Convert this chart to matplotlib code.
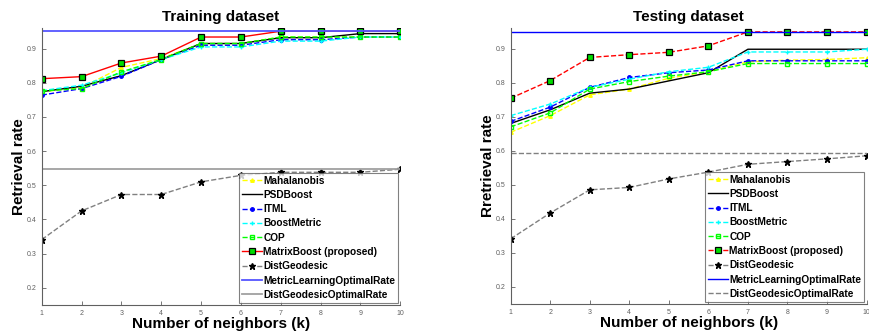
import numpy as np
import matplotlib
matplotlib.use("Agg")
import matplotlib.pyplot as plt

plt.rcParams.update({
    "font.family": ["Liberation Sans", "DejaVu Sans"],
    "font.size": 8,
})

k = list(range(1, 11))

# Training dataset
train_maha = [0.774, 0.786, 0.845, 0.871, 0.915, 0.915, 0.934, 0.934, 0.934, 0.934]
train_psd = [0.774, 0.790, 0.821, 0.868, 0.915, 0.915, 0.932, 0.932, 0.944, 0.944]
train_itml = [0.764, 0.783, 0.819, 0.868, 0.910, 0.910, 0.926, 0.926, 0.934, 0.934]
train_boost = [0.777, 0.793, 0.829, 0.868, 0.905, 0.905, 0.922, 0.922, 0.934, 0.934]
train_cop = [0.776, 0.783, 0.832, 0.868, 0.915, 0.915, 0.934, 0.934, 0.934, 0.934]
train_matrix = [0.812, 0.818, 0.858, 0.878, 0.934, 0.934, 0.951, 0.951, 0.951, 0.951]
train_geo = [0.341, 0.425, 0.473, 0.473, 0.510, 0.529, 0.538, 0.538, 0.538, 0.547]
train_ml_opt = 0.951
train_geo_opt = 0.547

# Testing dataset
test_maha = [0.654, 0.703, 0.764, 0.781, 0.813, 0.832, 0.861, 0.866, 0.868, 0.873]
test_psd = [0.680, 0.720, 0.769, 0.781, 0.805, 0.829, 0.898, 0.898, 0.898, 0.898]
test_itml = [0.686, 0.728, 0.786, 0.815, 0.829, 0.837, 0.864, 0.864, 0.864, 0.864]
test_boost = [0.703, 0.737, 0.786, 0.810, 0.832, 0.845, 0.890, 0.890, 0.890, 0.898]
test_cop = [0.670, 0.711, 0.781, 0.803, 0.819, 0.832, 0.856, 0.856, 0.856, 0.856]
test_matrix = [0.754, 0.806, 0.874, 0.882, 0.889, 0.908, 0.949, 0.949, 0.949, 0.949]
test_geo = [0.341, 0.417, 0.485, 0.492, 0.517, 0.537, 0.560, 0.568, 0.576, 0.585]
test_ml_opt = 0.949
test_geo_opt = 0.592


def draw(ax, maha, psd, itml, boost, cop, matrix, geo, ml_opt, geo_opt,
         matrix_ls, ml_kw, geo_opt_kw, title, ylabel):
    ax.plot(k, maha, "--^", color="#ffff00", lw=1, ms=2.5, label="Mahalanobis")
    ax.plot(k, psd, "-", color="black", lw=1, label="PSDBoost")
    ax.plot(k, itml, "--o", color="#0000ff", lw=1, ms=2.5, label="ITML")
    ax.plot(k, boost, "--+", color="#00ffff", lw=1, ms=3.5, label="BoostMetric")
    ax.plot(k, cop, "--s", color="#00ff00", lw=1, ms=3, mfc="none", label="COP")
    ax.plot(k, matrix, matrix_ls, color="#ff0000", lw=1, marker="s", ms=4.5,
            mfc="#00dd00", mec="black", mew=0.9, label="MatrixBoost (proposed)")
    ax.plot(k, geo, "--*", color="#808080", lw=1, ms=4.5, mfc="black", mec="black",
            label="DistGeodesic")
    ax.axhline(ml_opt, label="MetricLearningOptimalRate", **ml_kw)
    ax.axhline(geo_opt, label="DistGeodesicOptimalRate", **geo_opt_kw)

    ax.set_xlim(1, 10)
    ax.set_ylim(0.15, 0.96)
    ax.set_xticks(k)
    ax.set_yticks([0.2, 0.3, 0.4, 0.5, 0.6, 0.7, 0.8, 0.9])
    ax.set_yticklabels(["0.2", "0.3", "0.4", "0.5", "0.6", "0.7", "0.8", "0.9"])
    ax.tick_params(direction="in", length=3, labelsize=5, colors="#606060",
                   width=0.6)
    for s in ["top", "right"]:
        ax.spines[s].set_visible(False)
    for s in ["left", "bottom"]:
        ax.spines[s].set_color("#606060")
        ax.spines[s].set_linewidth(0.8)
    ax.set_title(title, fontsize=11, fontweight="bold", pad=5)
    ax.set_xlabel("Number of neighbors (k)", fontsize=11, fontweight="bold", labelpad=0)
    ax.set_ylabel(ylabel, fontsize=11, fontweight="bold", labelpad=1)
    leg = ax.legend(loc="lower right", prop={"weight": "bold", "size": 7.3},
                    frameon=True, fancybox=False, edgecolor="#606060",
                    borderpad=0.3, labelspacing=0.42, handlelength=2.0,
                    handletextpad=0.1, borderaxespad=0.2)
    leg.get_frame().set_linewidth(0.8)


fig = plt.figure(figsize=(8.7, 3.31), dpi=100)
ax1 = fig.add_axes([0.048, 0.079, 0.412, 0.836])
ax2 = fig.add_axes([0.587, 0.082, 0.409, 0.833])

draw(ax1, train_maha, train_psd, train_itml, train_boost, train_cop, train_matrix,
     train_geo, train_ml_opt, train_geo_opt, "-",
     dict(color="#5555ff", lw=1.3), dict(color="#a0a0a0", lw=1.3),
     "Training dataset", "Retrieval rate")
draw(ax2, test_maha, test_psd, test_itml, test_boost, test_cop, test_matrix,
     test_geo, test_ml_opt, test_geo_opt, "--",
     dict(color="#0000ff", lw=1), dict(color="#808080", lw=1, ls="--"),
     "Testing dataset", "Rretrieval rate")

fig.savefig("out.png", dpi=100)
